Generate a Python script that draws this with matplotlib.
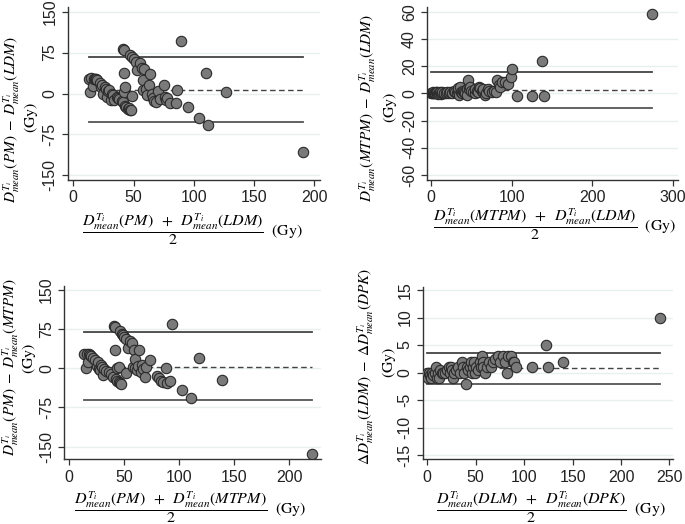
import matplotlib
matplotlib.use('Agg')
import matplotlib.pyplot as plt

plt.rcParams['font.family'] = ['Liberation Sans', 'DejaVu Sans']
plt.rcParams['mathtext.fontset'] = 'stix'
plt.rcParams['axes.unicode_minus'] = False

# ---------------- data ----------------
p1 = [(13,27),(14,2),(15,28),(16,14),(17,27),(18,26),(19,27),(20,24),(22,20),(23,12),(24,16),(25,-1),
      (26,12),(27,8),(28,-6),(29,4),(30,6),(31,-12),(32,0),(33,-3),(34,-12),(36,-6),(37,-9),(38,-10),
      (40,-14),(41,-16),(41,81),(42,80),(42,37),(42,3),(43,-22),(43,12),(44,-24),(45,-29),(46,-27),
      (47,-31),(47,70),(48,-30),(49,-5),(49,66),(50,64),(52,58),(53,43),(55,55),(57,47),(58,24),(58,6),
      (59,45),(60,8),(61,-3),(63,15),(64,36),(65,0),(66,-9),(67,-14),(69,-15),(70,5),(72,-10),(75,15),
      (76,-6),(77,-12),(78,-8),(80,-18),(85,-17),(86,6),(89,96),(95,-25),(104,-44),(110,38),(112,-58),
      (127,2),(191,-108)]
p1_x = [p[0] for p in p1]
p1_y = [p[1] for p in p1]

p2 = [(0,0),(1,0.5),(2,0),(3,1),(4,0),(5,0.5),(6,1),(7,0),(8,1),(9,-0.5),(10,0.5),(11,1),(12,-0.5),
      (13,0),(14,1),(16,0.5),(18,0),(20,1),(22,0),(24,1),(26,0.5),(28,1.5),(30,1),(32,0),(33,2),(34,4),
      (35,-1),(36,5),(37,1),(38,0),(40,2),(41,1),(42,0),(44,3),(45,-1),(46,10),(47,3),(48,5),(50,2),
      (52,1),(54,0),(55,3),(57,2),(58,1),(60,5),(61,4),(63,2),(64,1),(65,3),(67,-1),(68,0),(70,3),
      (72,2),(75,1),(78,2),(80,1),(82,10),(84,6),(86,5),(88,8),(92,8),(95,7),(99,12),(100,18),
      (107,-2),(125,-2),(138,24),(140,-2),(274,58)]
p2_x = [p[0] for p in p2]
p2_y = [p[1] for p in p2]

p3 = [(14,27),(15,0),(16,28),(17,13),(18,27),(19,26),(20,24),(22,20),(24,15),(25,5),(26,12),(27,-1),
      (28,-3),(29,7),(30,3),(31,-13),(32,-1),(34,-5),(36,-8),(38,-11),(40,-16),(41,81),(42,79),(42,35),
      (43,-20),(44,0),(44,-24),(45,3),(45,-27),(46,-29),(46,71),(47,-31),(48,66),(49,64),(50,60),
      (52,-9),(52,57),(54,38),(55,52),(57,48),(58,2),(59,35),(60,0),(60,18),(62,-3),(63,4),(64,35),
      (65,-8),(66,6),(67,-2),(69,-16),(70,2),(74,16),(80,-14),(82,-19),(84,-24),(85,-27),(88,0),
      (89,-29),(92,-24),(94,85),(103,-41),(111,-57),(118,19),(139,-22),(221,-165)]
p3_x = [p[0] for p in p3]
p3_y = [p[1] for p in p3]

p4 = [(0,0),(1,-1),(2,0),(3,-0.5),(4,-1),(5,0),(6,-0.5),(8,0),(9,1),(10,-1),(11,0),(12,-1),(13,0.5),
      (15,0),(16,0),(18,0),(20,0.5),(22,1),(23,0),(24,1),(25,0.5),(27,-1),(28,0),(30,0.4),(32,1),
      (34,0),(36,2),(37,1),(38,0),(40,-2),(41,1),(42,0.5),(44,1),(45,2),(46,0),(47,1),(48,2),(49,0),
      (50,1),(52,0.5),(54,2),(55,1),(56,3),(57,2),(58,1),(60,0),(62,1),(64,2),(66,1),(68,2),(70,2.5),
      (73,3),(75,2),(78,3),(80,2),(82,0),(83,3),(86,3),(88,2),(90,2),(92,1),(108,1),(123,5),(125,1),
      (140,2),(240,10)]
p4_x = [p[0] for p in p4]
p4_y = [p[1] for p in p4]

# mean difference and limits of agreement (lower, mean, upper)
limits = [(-52, 7, 66), (-10.5, 2.7, 15.9), (-60.6, 3.2, 69), (-2.0, 0.8, 3.5)]

yticks = [[-150, -75, 0, 75, 150], [-60, -40, -20, 0, 20, 40, 60],
          [-150, -75, 0, 75, 150], [-15, -10, -5, 0, 5, 10, 15]]
xticks = [[0, 50, 100, 150, 200], [0, 100, 200, 300],
          [0, 50, 100, 150, 200], [0, 50, 100, 150, 200, 250]]

ylabels = [r'$D_{mean}^{T_i}(PM)\;-\;D_{mean}^{T_i}(LDM)$',
           r'$D_{mean}^{T_i}(MTPM)\;-\;D_{mean}^{T_i}(LDM)$',
           r'$D_{mean}^{T_i}(PM)\;-\;D_{mean}^{T_i}(MTPM)$',
           r'$\Delta D_{mean}^{T_i}(LDM)\;-\;\Delta D_{mean}^{T_i}(DPK)$']
yunit = r'$\mathrm{(Gy)}$'
xlabels = [r'$\dfrac{D_{mean}^{T_i}(PM)\;\;+\;\;D_{mean}^{T_i}(LDM)}{2}\ \ \mathrm{(Gy)}$',
           r'$\dfrac{D_{mean}^{T_i}(MTPM)\;\;+\;\;D_{mean}^{T_i}(LDM)}{2}\ \ \mathrm{(Gy)}$',
           r'$\dfrac{D_{mean}^{T_i}(PM)\;\;+\;\;D_{mean}^{T_i}(MTPM)}{2}\ \ \mathrm{(Gy)}$',
           r'$\dfrac{D_{mean}^{T_i}(DLM)\;\;+\;\;D_{mean}^{T_i}(DPK)}{2}\ \ \mathrm{(Gy)}$']

# ---------------- layout ----------------
W, H = 685, 524
fig = plt.figure(figsize=(W / 100, H / 100), dpi=100)

# axes boxes in pixels: left, top, right, bottom
boxes = [(68, 7, 320, 180), (427.3, 6.7, 678, 180), (64.3, 286, 321, 459.3), (422.7, 286.7, 673.3, 459.3)]
xlims = [(-4.4, 204.7), (-4.6, 306), (-4.3, 229), (-4.75, 254)]
ylims = [(-158.5, 158.5), (-63.7, 63.7), (-174.3, 157.6), (-15.75, 15.6)]
ylab1_pos = [(11.5, 120), (368, 108), (10.5, 367), (365.5, 367)]
yunit_pos = [(31, 117), (390, 107), (29.5, 358), (388.5, 362)]
xlabel_pos = [(192, 229), (555, 224), (190, 507), (551, 507)]

data = [(p1_x, p1_y), (p2_x, p2_y), (p3_x, p3_y), (p4_x, p4_y)]

for i in range(4):
    l, t, r, b = boxes[i]
    ax = fig.add_axes([l / W, 1 - b / H, (r - l) / W, (b - t) / H])
    xs, ys = data[i]
    ax.set_xlim(*xlims[i])
    ax.set_ylim(*ylims[i])
    ax.set_xticks(xticks[i])
    ax.set_yticks(yticks[i])
    for yv in yticks[i]:
        ax.axhline(yv, color='#e6f0f0', lw=1.0, zorder=0)
    lo, mn, up = limits[i]
    x0, x1 = min(xs), max(xs)
    ax.plot([x0, x1], [up, up], color='#444444', lw=1.3, zorder=1)
    ax.plot([x0, x1], [lo, lo], color='#555555', lw=1.3, zorder=1)
    ax.plot([x0, x1], [mn, mn], color='#444444', lw=1.0, ls=(0, (4, 2.5)), zorder=1)
    ax.scatter(xs, ys, s=56, facecolor='#7a7a7a', edgecolor='#2a2a2a', linewidth=0.8, zorder=3)
    for s in ['top', 'right']:
        ax.spines[s].set_visible(False)
    for s in ['left', 'bottom']:
        ax.spines[s].set_color('#333333')
        ax.spines[s].set_linewidth(1.0)
    ax.tick_params(axis='both', direction='out', length=4, width=0.9, color='#333333',
                   labelsize=11.5, labelcolor='#222222')
    for lab in ax.get_yticklabels():
        lab.set_rotation(90)
        lab.set_va('center')
    fig.text(ylab1_pos[i][0] / W, 1 - ylab1_pos[i][1] / H, ylabels[i], rotation=90,
             ha='center', va='center', fontsize=11)
    fig.text(yunit_pos[i][0] / W, 1 - yunit_pos[i][1] / H, yunit, rotation=90,
             ha='center', va='center', fontsize=11.5)
    fig.text(xlabel_pos[i][0] / W, 1 - xlabel_pos[i][1] / H, xlabels[i],
             ha='center', va='center', fontsize=11.5)

fig.savefig('out.png', dpi=100)
